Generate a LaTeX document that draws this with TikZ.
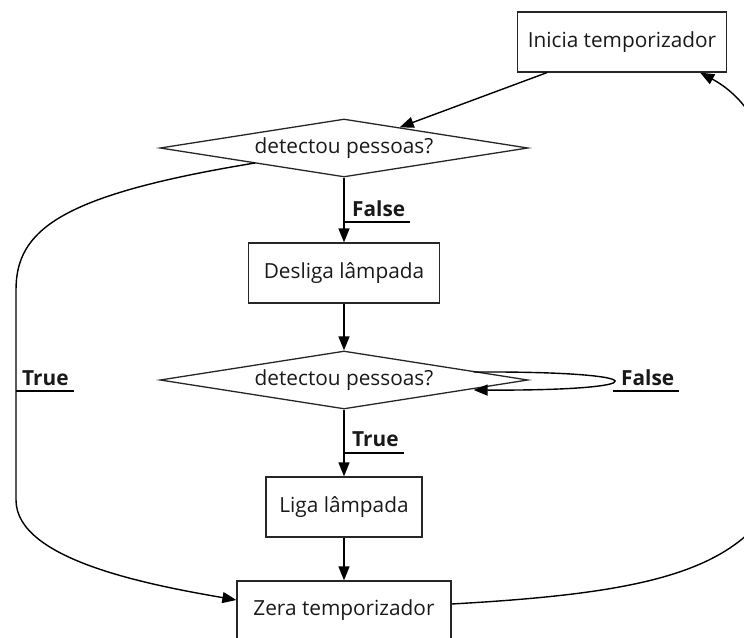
\documentclass[tikz,border=0pt]{standalone}
\usepackage{fontspec}
\setmainfont{Open Sans}
\usetikzlibrary{shapes.geometric,arrows.meta,calc}

\tikzset{
  every node/.style={font=\fontsize{20.8}{24}\selectfont, text=black!90},
  procbox/.style={draw=black!85, line width=1.3pt, rectangle, minimum height=60pt, inner xsep=0pt},
  decision/.style={draw=black!85, line width=1.3pt, diamond, aspect=6.34, inner sep=0pt, minimum width=368pt, minimum height=58pt},
  edgelabel/.style={font=\fontsize{20.8}{24}\selectfont\bfseries, inner sep=0pt, anchor=base west},
  flow/.style={line width=1.4pt, -{Triangle[length=14pt,width=11pt]}},
  underline/.style={line width=1.4pt}
}

\begin{document}
\begin{tikzpicture}[x=1pt, y=-1pt]
  \useasboundingbox (0,0) rectangle (744,637);

  % process steps and decisions
  \node[procbox, minimum width=209pt] (ini) at (622,42) {Inicia temporizador};
  \node[decision] (d1) at (344,148) {detectou pessoas?};
  \node[procbox, minimum width=191pt] (off) at (344,273) {Desliga lâmpada};
  \node[decision] (d2) at (344,380) {detectou pessoas?};
  \node[procbox, minimum width=156pt] (on) at (344,507) {Liga lâmpada};
  \node[procbox, minimum width=214pt, minimum height=58pt] (zero) at (344,610) {Zera temporizador};

  % start timer -> first check
  \coordinate (iniout) at ($(ini.south west)+(30,0)$);
  \draw[flow] (iniout) -- (d1);

  % no people -> lamp off
  \draw[flow] (d1) -- (off);
  \node[edgelabel] (lf1) at (352,216) {False};
  \draw[underline] (344,222) -- ($(lf1.base east)+(5,6)$);

  % lamp off -> second check
  \draw[flow] (off) -- (d2);

  % people detected -> lamp on
  \draw[flow] (d2) -- (on);
  \node[edgelabel] (lt2) at (352,446) {True};
  \draw[underline] (344,453) -- ($(lt2.base east)+(5,7)$);

  % keep waiting while nobody is there
  \coordinate (loopout) at ($(d2.east)+(-55,-8)$);
  \coordinate (loopin) at ($(d2.east)+(-55,10)$);
  \draw[flow] (loopout) .. controls (660,371) and (660,391) .. (loopin);
  \node[edgelabel] (lf2) at (621,385) {False};
  \draw[underline] (613,391) -- ($(lf2.base east)+(5,6)$);

  % lamp on -> reset timer
  \draw[flow] (on) -- (zero);

  % people detected at first check -> reset timer
  \coordinate (d1out) at (255,163);
  \coordinate (zeroin) at ($(zero.west)+(0,-10)$);
  \draw[flow] (d1out) .. controls (60,195) and (16,230) .. (16,290)
    -- (16,500) .. controls (16,560) and (150,585) .. (zeroin);
  \node[edgelabel] (lt1) at (22,385) {True};
  \draw[underline] (16,391) -- ($(lt1.base east)+(5,6)$);

  % reset timer -> start timer again
  \coordinate (zeroout) at ($(zero.east)+(0,-6)$);
  \coordinate (iniin) at ($(ini.south east)+(-27,0)$);
  \draw[flow] (zeroout) .. controls (700,590) and (790,560) .. (800,400)
    .. controls (800,200) and (770,110) .. (iniin);
\end{tikzpicture}
\end{document}
